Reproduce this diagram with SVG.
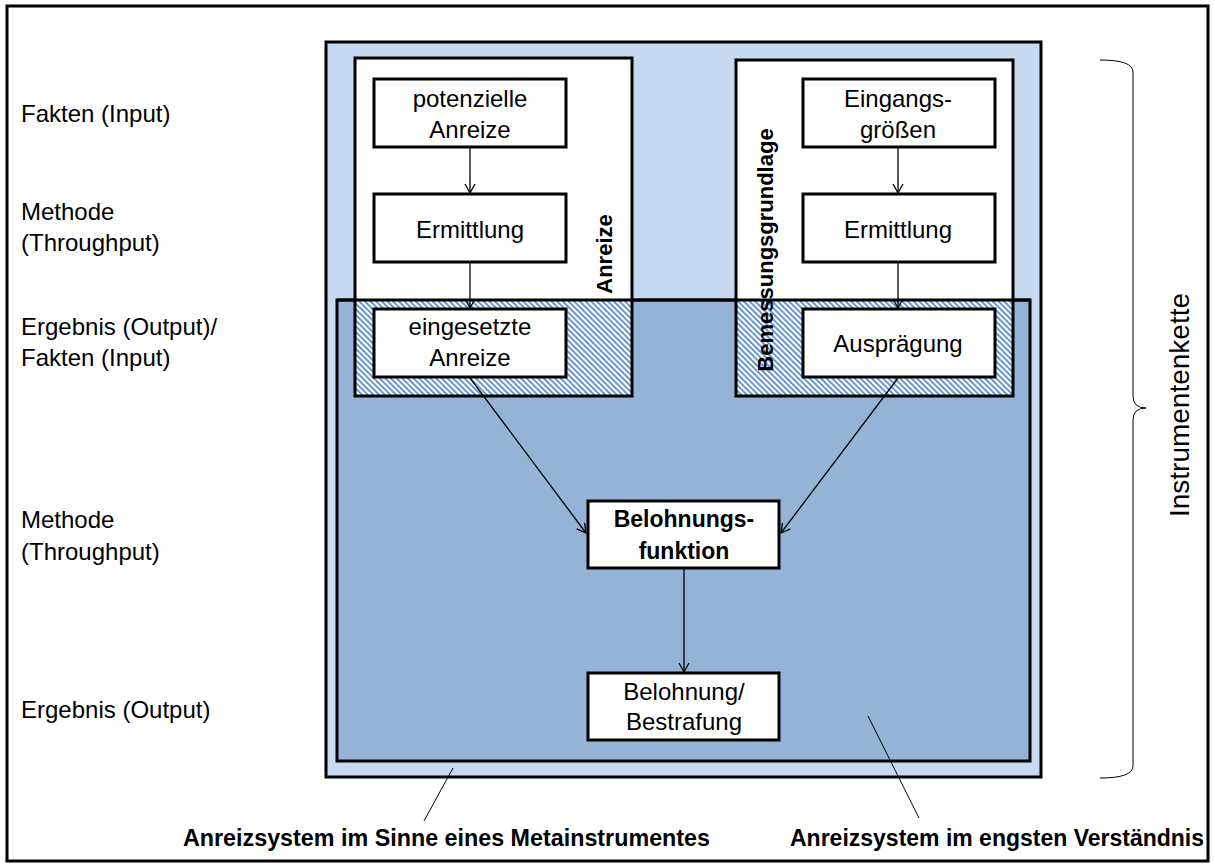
<svg xmlns="http://www.w3.org/2000/svg" width="1215" height="868" viewBox="0 0 1215 868">
<defs>
<pattern id="hatch" width="4" height="4" patternUnits="userSpaceOnUse" patternTransform="rotate(-45)">
<rect x="0" y="0" width="4" height="4" fill="#ffffff"/>
<rect x="0" y="0" width="1.8" height="4" fill="#5b8ccc"/>
</pattern>
<marker id="arr" markerWidth="12" markerHeight="12" refX="10" refY="6" orient="auto" markerUnits="userSpaceOnUse">
<path d="M1,1 L10,6 L1,11" fill="none" stroke="#000" stroke-width="1.3"/>
</marker>
<style>
.t{font-family:"Liberation Sans",Arial,sans-serif;font-size:24px;fill:#000}
.c{text-anchor:middle}
.b{font-weight:bold;font-size:22px}
.bb{font-weight:bold;font-size:23px}
.box{fill:#fff;stroke:#000;stroke-width:3}
.thick{stroke:#000;stroke-width:3}
.conn{stroke:#000;stroke-width:1.3;fill:none;marker-end:url(#arr)}
.thin{stroke:#000;stroke-width:1;fill:none}
</style>
</defs>
<rect x="7" y="6" width="1201" height="855" fill="#fff" stroke="#000" stroke-width="3"/>

<g id="rowlabels">
<text class="t" x="21" y="122">Fakten (Input)</text>
<text class="t" x="21" y="220">Methode</text>
<text class="t" x="21" y="251">(Throughput)</text>
<text class="t" x="21" y="335">Ergebnis (Output)/</text>
<text class="t" x="21" y="366">Fakten (Input)</text>
<text class="t" x="21" y="528">Methode</text>
<text class="t" x="21" y="560">(Throughput)</text>
<text class="t" x="21" y="718">Ergebnis (Output)</text>
</g>

<g id="metainstrument">
<rect x="326" y="42" width="715" height="735" fill="#c6d9f1" class="thick"/>
</g>
<g id="engsten">
<rect x="337" y="300" width="693" height="461" fill="#95b3d7" class="thick"/>
</g>

<g id="anreize">
<rect x="355" y="58" width="277" height="242" fill="#fff"/>
<rect x="355" y="300" width="277" height="96" fill="url(#hatch)"/>
<rect x="355" y="58" width="277" height="338" fill="none" class="thick"/>
<text class="t b c" transform="translate(612,254) rotate(-90)">Anreize</text>
</g>
<g id="bemessungsgrundlage">
<rect x="736" y="60" width="277" height="240" fill="#fff"/>
<rect x="736" y="300" width="277" height="96" fill="url(#hatch)"/>
<rect x="736" y="60" width="277" height="336" fill="none" class="thick"/>
<text class="t b c" transform="translate(773,250) rotate(-90)">Bemessungsgrundlage</text>
</g>
<line x1="337" y1="300" x2="1030" y2="300" class="thick"/>

<g id="potenzielle">
<rect x="374" y="79" width="192" height="68" class="box"/>
<text class="t c" x="470" y="107">potenzielle</text>
<text class="t c" x="470" y="138">Anreize</text>
</g>
<g id="ermittlung1">
<rect x="374" y="194" width="192" height="68" class="box"/>
<text class="t c" x="470" y="238">Ermittlung</text>
</g>
<g id="eingesetzte">
<rect x="374" y="309" width="192" height="68" class="box"/>
<text class="t c" x="470" y="335">eingesetzte</text>
<text class="t c" x="470" y="366">Anreize</text>
</g>
<g id="eingangsgroessen">
<rect x="803" y="79" width="192" height="68" class="box"/>
<text class="t c" x="898" y="107">Eingangs-</text>
<text class="t c" x="898" y="138">größen</text>
</g>
<g id="ermittlung2">
<rect x="803" y="194" width="192" height="68" class="box"/>
<text class="t c" x="898" y="238">Ermittlung</text>
</g>
<g id="auspraegung">
<rect x="803" y="309" width="192" height="68" class="box"/>
<text class="t c" x="898" y="352">Ausprägung</text>
</g>
<g id="belohnungsfunktion">
<rect x="588" y="501" width="191" height="67" class="box"/>
<text class="t bb c" x="684" y="527">Belohnungs-</text>
<text class="t bb c" x="684" y="559">funktion</text>
</g>
<g id="belohnung">
<rect x="588" y="673" width="191" height="67" class="box"/>
<text class="t c" x="684" y="700">Belohnung/</text>
<text class="t c" x="684" y="730">Bestrafung</text>
</g>

<g id="connectors">
<line x1="470" y1="148" x2="470" y2="193" class="conn"/>
<line x1="470" y1="263" x2="470" y2="308" class="conn"/>
<line x1="898" y1="148" x2="898" y2="193" class="conn"/>
<line x1="898" y1="263" x2="898" y2="308" class="conn"/>
<line x1="470" y1="378" x2="586" y2="533" class="conn"/>
<line x1="898" y1="378" x2="781" y2="533" class="conn"/>
<line x1="684" y1="569" x2="684" y2="672" class="conn"/>
<line x1="453" y1="768" x2="424" y2="821" class="thin"/>
<line x1="868" y1="716" x2="919" y2="818" class="thin"/>
</g>

<g id="instrumentenkette">
<path d="M1100,60 Q1133,60 1133,72 L1133,396 Q1133,408 1146,408 Q1133,408 1133,420 L1133,766 Q1133,778 1100,778" class="thin" stroke-width="1.2"/>
<text class="t c" style="font-size:28px" transform="translate(1189,405) rotate(-90)">Instrumentenkette</text>
</g>

<g id="bottomlabels">
<text class="t b" x="183" y="846" style="font-size:23px" textLength="527" lengthAdjust="spacingAndGlyphs">Anreizsystem im Sinne eines Metainstrumentes</text>
<text class="t b" x="790" y="846" style="font-size:23px" textLength="414" lengthAdjust="spacingAndGlyphs">Anreizsystem im engsten Verständnis</text>
</g>
</svg>
